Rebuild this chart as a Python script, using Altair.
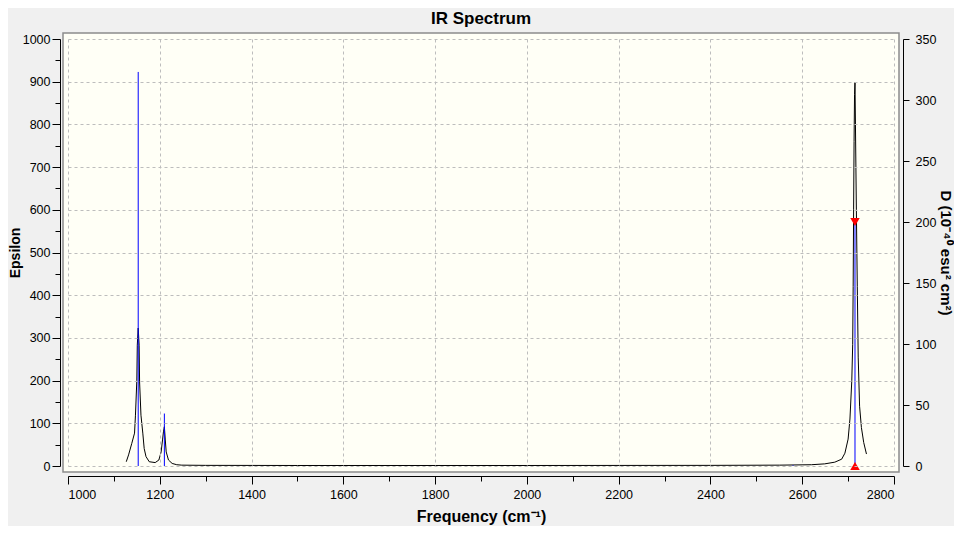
import altair as alt
import pandas as pd

# broadened spectrum (Epsilon)
curve_freq = [1127, 1132, 1139, 1145, 1147, 1150, 1151, 1153, 1155, 1156,
              1159, 1163, 1166, 1170, 1177, 1190, 1198, 1203, 1206, 1208,
              1210, 1212, 1214, 1219, 1227, 1237, 1248, 1300, 1500, 2000,
              2400, 2550, 2620, 2649, 2671, 2686, 2693, 2700, 2704, 2708,
              2710, 2711, 2712, 2713, 2714, 2715, 2716, 2718, 2720, 2722,
              2725, 2729, 2734, 2740]
curve_eps = [10, 26, 53, 77, 119, 201, 283, 323, 283, 197,
             119, 77, 41, 22, 10, 8, 14, 33, 61, 80,
             92, 61, 33, 14, 6, 3, 2, 1.5, 1.2, 1.2,
             1.5, 2, 3, 5, 9, 16, 30, 63, 110, 200,
             285, 420, 600, 760, 870, 898, 800, 600, 420, 255,
             140, 90, 55, 28]

# stick spectrum (D, right axis)
stick_freq = [1153, 1210, 2580, 2715]
stick_d = [323, 43, 0.6, 200]

# selected mode markers
mark_freq = [2715, 2715]
mark_d = [200, 0]
mark_shape = ["down", "up"]

x_ticks = list(range(1000, 2801, 50))
y_ticks = list(range(0, 1001, 50))
d_ticks = list(range(0, 351, 50))

FONT = "Liberation Sans"
W, H = 826, 427

curve_df = pd.DataFrame({"freq": curve_freq, "eps": curve_eps})
stick_df = pd.DataFrame({"freq": stick_freq, "d": stick_d})
mark_df = pd.DataFrame({"freq": mark_freq, "d": mark_d, "shape": mark_shape})

x_enc = alt.X(
    "freq:Q",
    scale=alt.Scale(domain=[1000, 2800], nice=False),
    axis=alt.Axis(
        values=x_ticks, labelExpr="datum.value % 200 === 0 ? datum.label : ''",
        labelOverlap=False, format="d", offset=10,
        tickSize={"condition": {"test": "datum.value % 200 === 0", "value": 8}, "value": 5},
        grid=True,
        gridOpacity={"condition": {"test": "datum.value % 200 === 0", "value": 1}, "value": 0},
        title="Frequency (cm⁻¹)", titlePadding=8, zindex=1,
    ),
)

frame = alt.Chart(alt.Data(values=[{}])).mark_rect(
    fill="#FFFFF6", stroke="#8C8C8C", strokeWidth=1.5
).encode(
    x=alt.value(-5), x2=alt.value(W + 5), y=alt.value(-6), y2=alt.value(H + 6)
)

curve = alt.Chart(curve_df).mark_line(color="black", strokeWidth=1).encode(
    x=x_enc,
    y=alt.Y(
        "eps:Q",
        scale=alt.Scale(domain=[0, 1000], nice=False),
        axis=alt.Axis(
            values=y_ticks, labelExpr="datum.value % 100 === 0 ? datum.label : ''",
            labelOverlap=False, format="d", offset=8, labelPadding=2,
            tickSize={"condition": {"test": "datum.value % 100 === 0", "value": 8}, "value": 5},
            grid=True,
            gridOpacity={"condition": {"test": "datum.value % 100 === 0", "value": 1}, "value": 0},
            title="Epsilon", titlePadding=0, titleFontSize=14, zindex=1,
        ),
    ),
)

d_scale = alt.Scale(domain=[0, 350], nice=False)

sticks = alt.Chart(stick_df).mark_rule(color="#0000FF", strokeWidth=1).encode(
    x="freq:Q",
    y=alt.Y(
        "d:Q", scale=d_scale,
        axis=alt.Axis(
            orient="right", values=d_ticks, offset=9, tickSize=6, grid=False,
            labelPadding=6, title="D (10⁻⁴⁰ esu² cm²)", titlePadding=2, titleFontSize=15,
        ),
    ),
    y2=alt.datum(0),
)

markers = alt.Chart(mark_df).mark_point(filled=True, opacity=1, size=90, color="#FF0000").encode(
    x="freq:Q",
    y=alt.Y("d:Q", scale=d_scale),
    shape=alt.Shape("shape:N", scale=alt.Scale(domain=["down", "up"],
                                               range=["triangle-down", "triangle-up"]),
                    legend=None),
)

left = alt.layer(frame, curve)
right = alt.layer(sticks, markers)

chart = alt.layer(left, right).resolve_scale(y="independent").properties(
    width=W, height=H,
    title=alt.TitleParams("IR Spectrum", fontSize=17, fontWeight="bold", font=FONT,
                          color="black", offset=4),
    padding={"left": 60, "top": 31, "right": 60, "bottom": 60},
    autosize=alt.AutoSizeParams(type="none"),
).configure(background="#F0F0F0").configure_view(stroke=None).configure_axis(
    labelFont=FONT, labelFontSize=12.5, labelColor="black", labelPadding=4,
    titleFont=FONT, titleFontSize=16, titleFontWeight="bold", titleColor="black",
    domainColor="black", domainWidth=1, tickColor="black", tickWidth=1,
    gridColor="#BDBDBD", gridDash=[3, 3], gridWidth=1,
)

chart.save("out.html", embed_options={"renderer": "svg", "actions": False})
